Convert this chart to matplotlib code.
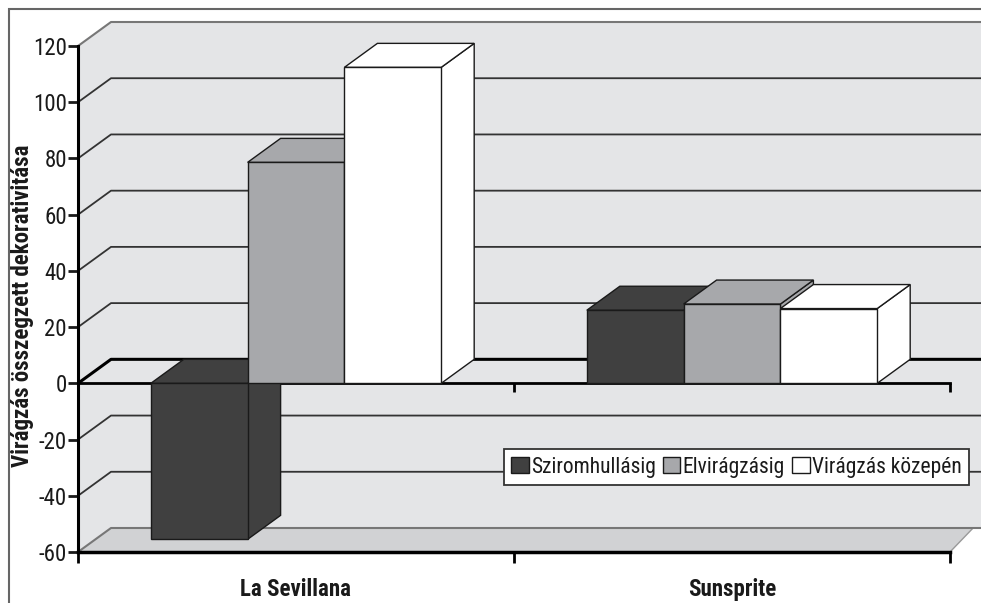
import numpy as np
import matplotlib
matplotlib.use("Agg")
import matplotlib.pyplot as plt
from matplotlib.patches import Polygon, Patch, Rectangle

plt.rcParams['font.family'] = ['Roboto Condensed', 'Liberation Sans', 'DejaVu Sans']

# adatok
kategoriak = ["La Sevillana", "Sunsprite"]
sorozatok = ["Sziromhullásig", "Elvirágzásig", "Virágzás közepén"]
sziromhullasig = [-55.5, 26.0]
elviragzasig = [78.6, 28.2]
viragzas_kozepen = [112.4, 26.6]
ertekek = [sziromhullasig, elviragzasig, viragzas_kozepen]
y_ticks = [-60, -40, -20, 0, 20, 40, 60, 80, 100, 120]
ylabel = "Virágzás összegzett dekorativitása"

szinek = ["#404040", "#a7a8ab", "#ffffff"]
fal = "#e4e5e7"
padlo = "#d1d2d4"
racs = "#333333"

fig = plt.figure(figsize=(9.81, 6.03), dpi=100)
ax = fig.add_axes([78/981, 51/603, 872/981, 506/603])
ax.set_xlim(-0.5, 1.5)
ax.set_ylim(-60, 120)

# 3D eltolas (melyseg)
dx = 33 / 436
dy = 24 / (506 / 180)
jobb = 1.62

# hatso fal, bal fal, padlo
ax.add_patch(Polygon([(-0.5+dx, -60+dy), (jobb, -60+dy), (jobb, 120+dy), (-0.5+dx, 120+dy)],
                     closed=True, facecolor=fal, edgecolor='none', zorder=0, clip_on=False))
ax.add_patch(Polygon([(-0.5, -60), (-0.5+dx, -60+dy), (-0.5+dx, 120+dy), (-0.5, 120)],
                     closed=True, facecolor=fal, edgecolor='none', zorder=0, clip_on=False))
ax.add_patch(Polygon([(-0.5, -60), (1.5, -60), (1.5+dx*0.7, -60+dy), (-0.5+dx, -60+dy)],
                     closed=True, facecolor=padlo, edgecolor='none', zorder=0.5, clip_on=False))
ax.plot([1.5, 1.5+dx*0.7], [-60, -60+dy], color='#999999', lw=1, zorder=0.6, clip_on=False)

# racsvonalak
for v in y_ticks:
    if v == 0:
        c, lw = 'black', 2.2
    elif v in (120, -60):
        c, lw = '#777777', 1.5
    else:
        c, lw = racs, 1.3
    ax.plot([-0.5, -0.5+dx, jobb], [v, v+dy, v+dy], color=c, lw=lw, zorder=1, clip_on=False,
            solid_capstyle='butt')

# nulla vonal elol
ax.plot([-0.5, 1.5], [0, 0], color='black', lw=2, zorder=1.5, clip_on=False)
ax.vlines([0.5, 1.5], -3.2, 0, color='black', lw=2, zorder=1.5, clip_on=False)

# oszlopok
w = 0.222
k = 0
for j in range(len(kategoriak)):
    for i in range(len(sorozatok)):
        val = ertekek[i][j]
        xc = j + (i - 1) * w
        x0 = xc - w / 2
        lo, hi = min(val, 0), max(val, 0)
        z = 3 + k * 0.1
        ax.add_patch(Polygon([(x0+w, lo), (x0+w, hi), (x0+w+dx, hi+dy), (x0+w+dx, lo+dy)],
                             closed=True, facecolor=szinek[i], edgecolor='#1a1a1a', lw=1,
                             zorder=z, clip_on=False))
        ax.add_patch(Polygon([(x0, hi), (x0+w, hi), (x0+w+dx, hi+dy), (x0+dx, hi+dy)],
                             closed=True, facecolor=szinek[i], edgecolor='#1a1a1a', lw=1,
                             zorder=z, clip_on=False))
        ax.bar(xc, val, width=w, color=szinek[i], edgecolor='#1a1a1a', lw=1, zorder=z+0.05,
               clip_on=False)
        k += 1

# tengelyek
for s in ['top', 'right']:
    ax.spines[s].set_visible(False)
ax.spines['left'].set_linewidth(2.2)
ax.spines['bottom'].set_linewidth(2.5)
ax.spines['left'].set_zorder(10)
ax.spines['bottom'].set_zorder(10)
ax.patch.set_visible(False)

ax.set_yticks(y_ticks)
ax.set_yticklabels([str(v) for v in y_ticks])
ax.tick_params(axis='y', direction='out', length=7, width=2, labelsize=16.5, pad=1, colors='#1a1a1a')
ax.set_xticks([-0.5, 0.5, 1.5])
ax.set_xticklabels(['', '', ''])
ax.tick_params(axis='x', which='major', direction='out', length=8, width=2)
ax.set_xticks([0, 1], minor=True)
ax.set_xticklabels(kategoriak, minor=True, fontsize=16.5, fontweight='bold', color='#1a1a1a')
ax.tick_params(axis='x', which='minor', length=0, pad=19)

fig.text(23/981, 1 - 306/603, ylabel, rotation=90, ha='center', va='center',
         fontsize=16.5, fontweight='bold', color='#1a1a1a')

# jelmagyarazat
kezelok = [Patch(facecolor=szinek[i], edgecolor='#1a1a1a', lw=1) for i in range(3)]
leg = fig.legend(kezelok, sorozatok, loc='center', bbox_to_anchor=(736.5/981, 1 - 467/603),
                 ncol=3, frameon=True, fancybox=False, edgecolor='#333333', framealpha=1,
                 handlelength=0.8, handleheight=0.8, handletextpad=0.1, columnspacing=0.35,
                 borderpad=0.35, fontsize=15.5, borderaxespad=0)
leg.get_frame().set_linewidth(1.3)
for t in leg.get_texts():
    t.set_color('#1a1a1a')

# kulso keret
fig.patches.append(Rectangle((9/981, -0.1), 1.2, 1 - 9/603 + 0.1, transform=fig.transFigure,
                             fill=False, edgecolor='#666666', lw=1.5, zorder=0))

fig.savefig("out.png", dpi=100)
